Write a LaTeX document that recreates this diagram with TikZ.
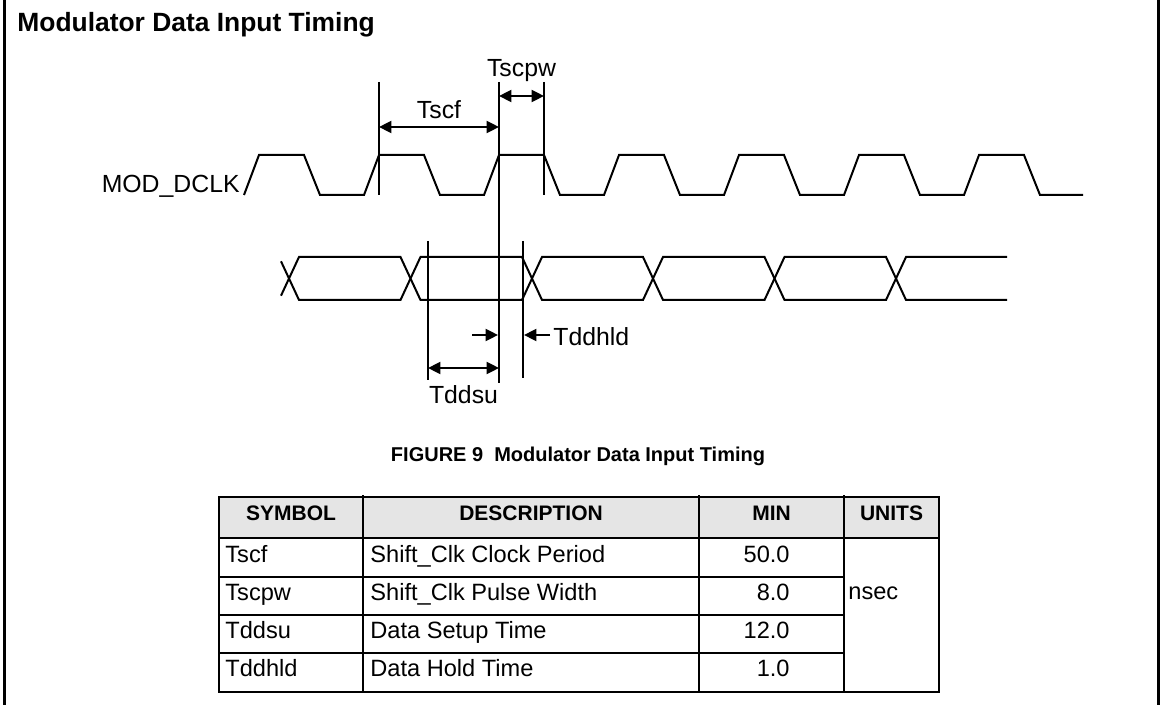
\documentclass[tikz,border=0pt]{standalone}
\usepackage{fontspec}
\setmainfont{Liberation Sans}
\usetikzlibrary{arrows.meta}
\begin{document}
\begin{tikzpicture}[x=0.5pt, y=-0.5pt,
        wave/.style={line width=1pt},
        guide/.style={line width=1pt},
        dimarr/.style={line width=1pt, {Triangle[length=6.2pt,width=6pt]}-{Triangle[length=6.2pt,width=6pt]}},
        onearr/.style={line width=1pt, -{Triangle[length=6.2pt,width=6pt]}},
        lbl/.style={inner sep=0pt, font=\fontsize{12.4}{14}\selectfont},
        cell/.style={inner sep=0pt, font=\fontsize{11.8}{14}\selectfont},
        head/.style={inner sep=0pt, font=\fontsize{10.5}{12}\selectfont\bfseries},
        grid/.style={line width=0.8pt}]

        \useasboundingbox (0,0) rectangle (1160,705);

        % frame
        \draw[line width=1.5pt] (4.5,0) -- (4.5,705);
        \draw[line width=1.5pt] (1158.5,0) -- (1158.5,705);

        % title
        \node[anchor=base west, inner sep=0pt, font=\fontsize{13.2}{16}\selectfont\bfseries] (title) at (17,32) {Modulator Data Input Timing};

        % clock
        \node[lbl, anchor=base east] (clk) at (240,193) {MOD\_DCLK};
        \draw[wave] (244,195) -- (259,155) -- (304,155) -- (320,195)
            -- (364,195) -- (379,155) -- (424,155) -- (440,195)
            -- (484,195) -- (499,155) -- (544,155) -- (560,195)
            -- (604,195) -- (619,155) -- (664,155) -- (680,195)
            -- (724,195) -- (739,155) -- (784,155) -- (800,195)
            -- (844,195) -- (859,155) -- (904,155) -- (920,195)
            -- (964,195) -- (979,155) -- (1024,155) -- (1040,195)
            -- (1083,195);

        % data bus
        \draw[wave] (281,295.7) -- (299,257) -- (400.5,257) -- (420.5,300)
            -- (522,300) -- (542,257) -- (643,257) -- (663,300)
            -- (764.5,300) -- (784.5,257) -- (886,257) -- (906,300) -- (1007,300);
        \draw[wave] (281,261.3) -- (299,300) -- (400.5,300) -- (420.5,257)
            -- (522,257) -- (542,300) -- (643,300) -- (663,257)
            -- (764.5,257) -- (784.5,300) -- (886,300) -- (906,257) -- (1007,257);

        % guide lines
        \coordinate (g1top) at (379,82);
        \coordinate (g1bot) at (379,195);
        \coordinate (g2top) at (499,82);
        \coordinate (g2bot) at (499,383);
        \coordinate (g3top) at (544,82);
        \coordinate (g3bot) at (544,195);
        \coordinate (g4top) at (428,241);
        \coordinate (g4bot) at (428,380);
        \coordinate (g5top) at (523,241);
        \coordinate (g5bot) at (523,378);
        \draw[guide] (g1top) -- (g1bot);
        \draw[guide] (g2top) -- (g2bot);
        \draw[guide] (g3top) -- (g3bot);
        \draw[guide] (g4top) -- (g4bot);
        \draw[guide] (g5top) -- (g5bot);

        % Tscf
        \coordinate (tscfA) at (379,127);
        \coordinate (tscfB) at (499,127);
        \draw[dimarr] (tscfA) -- (tscfB);
        \node[lbl, anchor=base] (tscf) at (439,119) {Tscf};

        % Tscpw
        \coordinate (tscpwA) at (499,96);
        \coordinate (tscpwB) at (544,96);
        \draw[dimarr] (tscpwA) -- (tscpwB);
        \node[lbl, anchor=base] (tscpw) at (521.5,77) {Tscpw};

        % Tddsu
        \coordinate (tddsuA) at (428,368);
        \coordinate (tddsuB) at (499,368);
        \draw[dimarr] (tddsuA) -- (tddsuB);
        \node[lbl, anchor=base] (tddsu) at (463.5,403) {Tddsu};
        \coordinate (suA) at (472,335);
        \coordinate (suB) at (498,335);
        \draw[onearr] (suA) -- (suB);

        % Tddhld
        \coordinate (hldA) at (550,335);
        \coordinate (hldB) at (524,335);
        \draw[onearr] (hldA) -- (hldB);
        \node[lbl, anchor=base west] (tddhld) at (553,345) {Tddhld};

        % caption
        \node[anchor=base, inner sep=0pt, font=\fontsize{10}{12}\selectfont\bfseries] (caption) at (578,461) {FIGURE 9\ \ Modulator Data Input Timing};

        % table
        \fill[black!10] (219,497) rectangle (939,538);
        \draw[grid] (219,497) rectangle (939,692);
        \draw[grid] (219,538) -- (939,538);
        \draw[grid] (219,577) -- (844,577);
        \draw[grid] (219,615) -- (844,615);
        \draw[grid] (219,653) -- (844,653);
        \draw[grid] (363,495) -- (363,692);
        \draw[grid] (699,495) -- (699,692);
        \draw[grid] (844,495) -- (844,692);

        % header
        \node[head, anchor=base] (hsym) at (291,520) {SYMBOL};
        \node[head, anchor=base] (hdesc) at (531,520) {DESCRIPTION};
        \node[head, anchor=base] (hmin) at (771.5,520) {MIN};
        \node[head, anchor=base] (hunits) at (891.5,520) {UNITS};

        % row 1
        \node[cell, anchor=base west] (sym1) at (225,562) {Tscf};
        \node[cell, anchor=base west] (desc1) at (370,562) {Shift\_Clk Clock Period};
        \node[cell, anchor=base east] (min1) at (790,562) {50.0};

        % row 2
        \node[cell, anchor=base west] (sym2) at (225,600) {Tscpw};
        \node[cell, anchor=base west] (desc2) at (370,600) {Shift\_Clk Pulse Width};
        \node[cell, anchor=base east] (min2) at (790,600) {8.0};

        % row 3
        \node[cell, anchor=base west] (sym3) at (225,638) {Tddsu};
        \node[cell, anchor=base west] (desc3) at (370,638) {Data Setup Time};
        \node[cell, anchor=base east] (min3) at (790,638) {12.0};

        % row 4
        \node[cell, anchor=base west] (sym4) at (225,676) {Tddhld};
        \node[cell, anchor=base west] (desc4) at (370,676) {Data Hold Time};
        \node[cell, anchor=base east] (min4) at (790,676) {1.0};

        % units
        \node[cell, anchor=base west] (units) at (848,599) {nsec};
    \end{tikzpicture}
\end{document}
